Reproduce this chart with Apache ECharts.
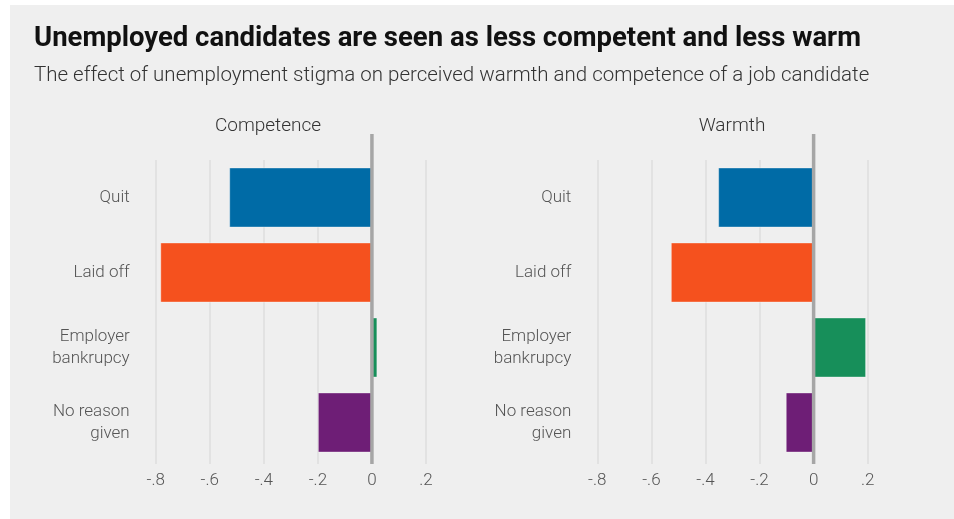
<!DOCTYPE html>
<html>
<head>
<meta charset="utf-8">
<script src="https://cdn.jsdelivr.net/npm/echarts@6/dist/echarts.min.js"></script>
<style>
html,body{margin:0;padding:0;background:#ffffff;}
#panel{position:absolute;left:10px;top:5px;width:944px;height:514px;background:#efefef;}
#chart{position:absolute;left:0;top:0;width:954px;height:519px;}
</style>
</head>
<body>
<div id="panel"></div>
<div id="chart"></div>
<script>
var categories = ['Quit', 'Laid off', 'Employer\nbankrupcy', 'No reason\ngiven'];
var competence = [-0.528, -0.783, 0.02, -0.2];
var warmth = [-0.353, -0.528, 0.194, -0.103];
var barColors = ['#006ba6', '#f5511e', '#178f5a', '#6e1e76'];
var tickLabels = ['-.8', '-.6', '-.4', '-.2', '0', '.2'];
var panelTitles = ['Competence', 'Warmth'];

var FONT = 'Roboto';
var chart = echarts.init(document.getElementById('chart'), null, {renderer: 'canvas'});

function xAxis(gridIndex) {
  return {
    type: 'value', gridIndex: gridIndex, min: -0.8, max: 0.2, interval: 0.2,
    axisLine: {show: false},
    axisTick: {show: true, length: 4, lineStyle: {color: '#dedede', width: 1.5}},
    splitLine: {show: true, lineStyle: {color: '#dedede', width: 1.5}},
    axisLabel: {
      color: '#555', fontSize: 17, fontFamily: FONT, fontWeight: 300, margin: 12,
      formatter: function (v, i) { return tickLabels[i]; }
    }
  };
}
function yAxis(gridIndex) {
  return {
    type: 'category', gridIndex: gridIndex, data: categories, inverse: true,
    axisLine: {show: false}, axisTick: {show: false},
    axisLabel: {color: '#555', fontSize: 17, fontFamily: FONT, fontWeight: 300, margin: 26, lineHeight: 22, align: 'right'}
  };
}
function barSeries(idx, values) {
  return {
    type: 'bar', xAxisIndex: idx, yAxisIndex: idx, barCategoryGap: '20%',
    data: values.map(function (v, i) {
      return {value: v, itemStyle: {color: barColors[i], borderColor: 'rgba(255,255,255,0.35)', borderWidth: 1}};
    })
  };
}

chart.setOption({
  animation: false,
  backgroundColor: 'transparent',
  title: [
    {text: 'Unemployed candidates are seen as less competent and less warm', left: 29, top: 20,
      textStyle: {fontFamily: FONT, fontWeight: 'bold', fontSize: 27.5, color: '#111'}},
    {text: 'The effect of unemployment stigma on perceived warmth and competence of a job candidate', left: 29, top: 60,
      textStyle: {fontFamily: FONT, fontWeight: 300, fontSize: 20.5, color: '#333'}},
    {text: panelTitles[0], left: 263, top: 112, textAlign: 'center',
      textStyle: {fontFamily: FONT, fontWeight: 300, fontSize: 19, color: '#333'}},
    {text: panelTitles[1], left: 727, top: 112, textAlign: 'center',
      textStyle: {fontFamily: FONT, fontWeight: 300, fontSize: 19, color: '#333'}}
  ],
  grid: [
    {left: 155.7, width: 270.3, top: 160, height: 300},
    {left: 597.3, width: 270.4, top: 160, height: 300}
  ],
  xAxis: [xAxis(0), xAxis(1)],
  yAxis: [yAxis(0), yAxis(1)],
  series: [barSeries(0, competence), barSeries(1, warmth)]
});

function drawZeroLines() {
  var els = [];
  [0, 1].forEach(function (g) {
    var x = chart.convertToPixel({xAxisIndex: g}, 0);
    var rect = chart.getModel().getComponent('grid', g).coordinateSystem.getRect();
    els.push({
      type: 'line', z: 100,
      shape: {x1: x, y1: rect.y - 26, x2: x, y2: rect.y + rect.height + 4},
      style: {stroke: '#a6a6a6', lineWidth: 3.5}
    });
  });
  chart.setOption({graphic: els});
}
drawZeroLines();
</script>
</body>
</html>
